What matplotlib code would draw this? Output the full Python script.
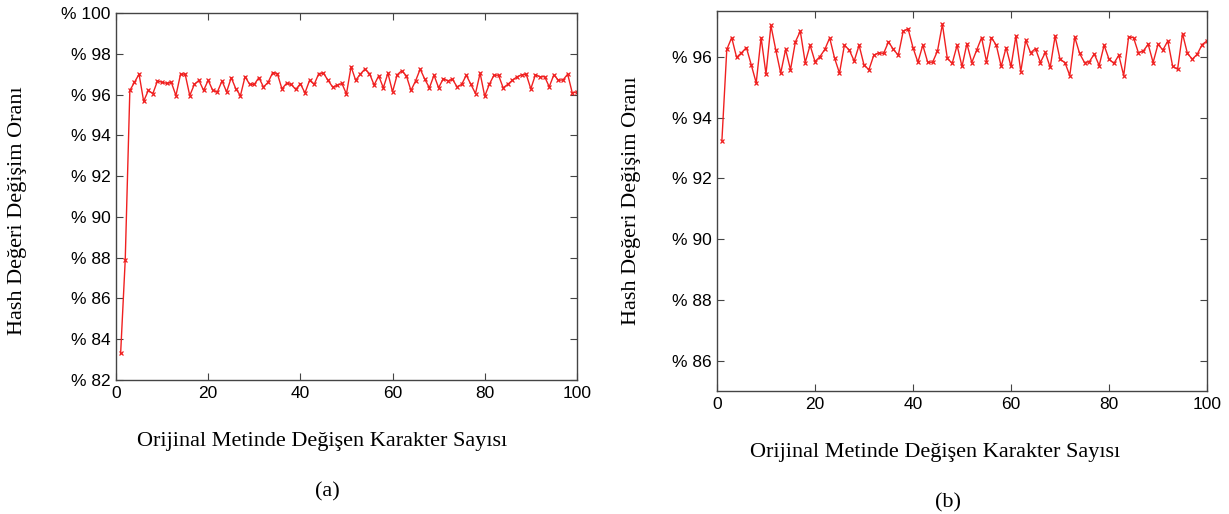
import numpy as np
import matplotlib
matplotlib.use("Agg")
import matplotlib.pyplot as plt
from matplotlib.ticker import FuncFormatter

# karakter sayisi
x = np.arange(1, 101)

# (a) hash degisim orani [%]
oran_a = [83.3, 87.9, 96.2, 96.6, 97.0, 95.67, 96.2, 96.05, 96.67, 96.6,
          96.55, 96.6, 95.95, 97.0, 97.0, 95.95, 96.5, 96.7, 96.2, 96.7,
          96.2, 96.13, 96.67, 96.13, 96.83, 96.28, 95.95, 96.88, 96.5, 96.5,
          96.83, 96.37, 96.6, 97.08, 97.03, 96.28, 96.55, 96.5, 96.25, 96.53,
          96.08, 96.7, 96.5, 97.03, 97.05, 96.7, 96.37, 96.45, 96.55, 96.03,
          97.37, 96.7, 97.0, 97.25, 97.03, 96.47, 96.92, 96.33, 97.05, 96.13,
          96.97, 97.17, 96.92, 96.2, 96.67, 97.25, 96.75, 96.33, 96.95, 96.33,
          96.78, 96.67, 96.75, 96.38, 96.5, 96.95, 96.5, 96.05, 97.05, 95.92,
          96.5, 96.95, 96.95, 96.33, 96.5, 96.7, 96.87, 96.97, 97.0, 96.28,
          96.97, 96.87, 96.88, 96.38, 96.97, 96.7, 96.72, 97.0, 96.08, 96.13]

# (b) hash degisim orani [%]
oran_b = [93.24, 96.24, 96.63, 95.98, 96.13, 96.3, 95.73, 95.14, 96.63, 95.43,
          97.03, 96.22, 95.46, 96.24, 95.57, 96.49, 96.84, 95.81, 96.38, 95.84,
          96.0, 96.24, 96.62, 95.95, 95.46, 96.38, 96.22, 95.86, 96.38, 95.73,
          95.57, 96.05, 96.13, 96.11, 96.49, 96.24, 96.05, 96.84, 96.92, 96.3,
          95.82, 96.38, 95.82, 95.82, 96.19, 97.07, 95.95, 95.78, 96.38, 95.68,
          96.43, 95.81, 96.22, 96.63, 95.84, 96.63, 96.38, 95.68, 96.3, 95.68,
          96.68, 95.51, 96.54, 96.13, 96.27, 95.81, 96.14, 95.65, 96.68, 95.92,
          95.81, 95.38, 96.65, 96.11, 95.81, 95.84, 96.09, 95.71, 96.38, 95.92,
          95.78, 96.05, 95.38, 96.65, 96.63, 96.13, 96.19, 96.41, 95.81, 96.41,
          96.22, 96.52, 95.68, 95.59, 96.76, 96.11, 95.92, 96.08, 96.4, 96.52]

yticks_a = np.arange(82, 101, 2)
yticks_b = np.arange(86, 97, 2)
xticks = np.arange(0, 101, 20)

etiket_x = "Orijinal Metinde Değişen Karakter Sayısı"
etiket_y = "Hash Değeri Değişim Oranı"

serif = ["Liberation Serif", "DejaVu Serif"]
sans = ["Liberation Sans", "DejaVu Sans"]

fig = plt.figure(figsize=(12.29, 5.14), dpi=100)
ax_a = fig.add_axes([0.0944, 0.2607, 0.375, 0.714])
ax_b = fig.add_axes([0.5834, 0.2393, 0.3987, 0.739])

yuzde = FuncFormatter(lambda v, pos: "%% %d" % v)

for ax, y, yt, ylim in [(ax_a, oran_a, yticks_a, (82, 100)),
                        (ax_b, oran_b, yticks_b, (85, 97.5))]:
    ax.plot(x, y, color="#f02020", lw=1.0, marker="x", ms=3, mew=0.9)
    ax.set_xlim(0, 100)
    ax.set_ylim(*ylim)
    ax.set_xticks(xticks)
    ax.set_yticks(yt)
    ax.yaxis.set_major_formatter(yuzde)
    ax.tick_params(direction="in", top=True, right=True, length=5,
                   width=0.8, color="#444444", labelsize=12.5, pad=4)
    for lab in ax.get_xticklabels() + ax.get_yticklabels():
        lab.set_family(sans)
    for sp in ax.spines.values():
        sp.set_color("#444444")
        sp.set_linewidth(1.0)

fig.text(0.262, 0.141, etiket_x, ha="center", va="center", fontsize=16, family=serif)
fig.text(0.761, 0.119, etiket_x, ha="center", va="center", fontsize=16, family=serif)
fig.text(0.014, 0.591, etiket_y, ha="center", va="center", rotation=90, fontsize=16, family=serif)
fig.text(0.514, 0.61, etiket_y, ha="center", va="center", rotation=90, fontsize=16, family=serif)
fig.text(0.266, 0.043, "(a)", ha="center", va="center", fontsize=16, family=serif)
fig.text(0.771, 0.021, "(b)", ha="center", va="center", fontsize=16, family=serif)

fig.savefig("out.png", dpi=100)
